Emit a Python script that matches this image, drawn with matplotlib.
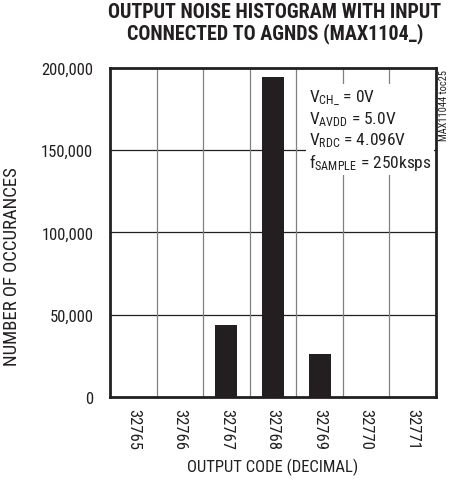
import matplotlib
matplotlib.use("Agg")
import matplotlib.pyplot as plt
from matplotlib import font_manager

codes = ["32765", "32766", "32767", "32768", "32769", "32770", "32771"]
counts = [0, 0, 44000, 194400, 26000, 0, 0]
yticks = [0, 50000, 100000, 150000, 200000]
ytick_labels = ["0", "50,000", "100,000", "150,000", "200,000"]

# find a narrow / condensed sans font if one is installed
narrow = None
for f in font_manager.fontManager.ttflist:
    key = (f.name + " " + f.fname).lower()
    if ("narrow" in key or "condensed" in key) and "mono" not in key and "serif" not in key:
        st = f.stretch
        narrow = (f.name, st)
        if "liberation" in key:
            break

if narrow:
    fam, stretch = narrow
    scale = 1.0
else:
    fam, stretch = "DejaVu Sans", "normal"
    scale = 0.86

plt.rcParams["font.family"] = [fam, "DejaVu Sans"]
plt.rcParams["font.stretch"] = stretch
plt.rcParams["mathtext.fontset"] = "custom"
pat = fam if stretch in ("normal", 500) else f"{fam}:stretch={stretch}"
plt.rcParams["mathtext.rm"] = pat
plt.rcParams["mathtext.it"] = pat

fig = plt.figure(figsize=(4.51, 4.81), dpi=100)
ax = fig.add_axes([110/451, 83/481, 326/451, 329/481])

x = list(range(len(codes)))
ax.bar(x, counts, width=0.47, color="#231f20", zorder=3)

ax.set_xlim(-0.5, len(codes) - 0.5)
ax.set_ylim(0, 200000)
ax.set_yticks(yticks)
ax.set_yticklabels(ytick_labels, fontsize=12 * scale, color="#231f20")
ax.set_xticks(x)
ax.set_xticklabels(codes, rotation=-90, fontsize=12 * scale, color="#231f20")
ax.tick_params(axis="y", length=0, pad=12)
ax.tick_params(axis="x", length=0, pad=8)

for v in yticks[1:-1]:
    ax.axhline(v, color="#231f20", lw=0.9, zorder=1)
for i in range(len(codes) - 1):
    ax.axvline(i + 0.5, color="#808080", lw=0.9, zorder=1)

for s in ax.spines.values():
    s.set_linewidth(2.0)
    s.set_color("#231f20")

ax.set_xlabel("OUTPUT CODE (DECIMAL)", fontsize=12 * scale, color="#231f20", labelpad=6)
ax.set_ylabel("NUMBER OF OCCURANCES", fontsize=13.5 * scale, color="#231f20")
ax.yaxis.set_label_coords(-0.273, 0.40)

fig.text(275/451, 1 - 3/481, "OUTPUT NOISE HISTOGRAM WITH INPUT\nCONNECTED TO AGNDS (MAX1104_)",
         ha="center", va="top", fontsize=14.5 * scale, fontweight="bold", color="#231f20",
         linespacing=1.1)

lines = [r"V$_{\mathregular{CH\_}}$ = 0V",
         r"V$_{\mathregular{AVDD}}$ = 5.0V",
         r"V$_{\mathregular{RDC}}$ = 4.096V",
         r"f$_{\mathregular{SAMPLE}}$ = 250ksps"]
ax.text(0.61, 0.94, "\n".join(lines), transform=ax.transAxes, ha="left", va="top",
        fontsize=12.5 * scale, color="#231f20", linespacing=1.15, zorder=4,
        bbox=dict(facecolor="white", edgecolor="none", pad=2))

fig.text(444/451, 1 - 70/481, "MAX11044 toc25", rotation=90, ha="center", va="top",
         fontsize=7.5, color="#231f20")

fig.savefig("out.png", dpi=100)
